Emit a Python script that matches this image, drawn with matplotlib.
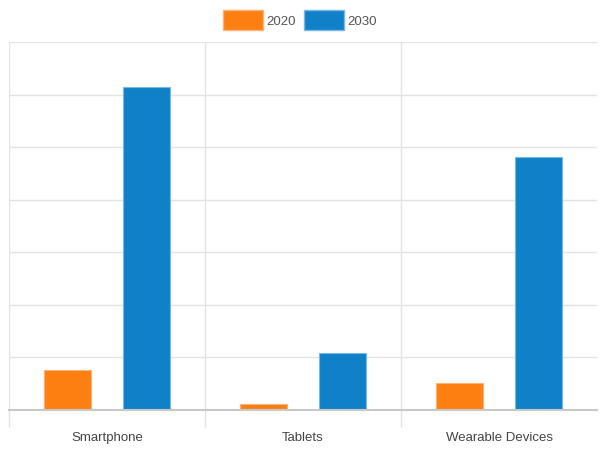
import numpy as np
import matplotlib
matplotlib.use("Agg")
import matplotlib.pyplot as plt
from matplotlib.patches import Patch

plt.rcParams['font.family'] = ['Liberation Sans', 'DejaVu Sans']

# data (gridline units of 10)
categories = ["Smartphone", "Tablets", "Wearable Devices"]
series_names = ["2020", "2030"]
values_2020 = [7.6, 1.1, 5.1]
values_2030 = [61.4, 10.8, 48.1]

orange = "#fd7f12"
blue = "#1080c9"
text_col = "#444444"

fig = plt.figure(figsize=(6.0, 4.52), dpi=100)
ax = fig.add_axes([9 / 600, 1 - 411 / 452, 588 / 600, 368 / 452])

x = np.arange(len(categories))
w = 0.24
off = 0.2015
ax.bar(x - off, values_2020, width=w, color=orange, edgecolor="#fdb27a",
       linewidth=0.8, zorder=3)
ax.bar(x + off, values_2030, width=w, color=blue, edgecolor="#7ab8e4",
       linewidth=0.8, zorder=3)

ax.set_xlim(-0.5, 2.5)
ax.set_ylim(0, 70)
ax.set_yticks(np.arange(0, 71, 10))
ax.set_yticklabels([])
ax.tick_params(axis='y', length=0)
ax.grid(axis='y', color="#e3e3e3", linewidth=1, zorder=0)

ax.set_xticks(x)
ax.set_xticklabels(categories, fontsize=9.5, color=text_col)
ax.set_xticks([-0.5, 0.5, 1.5], minor=True)
ax.tick_params(axis='x', which='major', length=0, pad=15)
ax.tick_params(axis='x', which='minor', length=12, color="#e3e3e3", width=1)
ax.grid(axis='x', which='minor', color="#e3e3e3", linewidth=1, zorder=0)

for s in ['top', 'right', 'left']:
    ax.spines[s].set_visible(False)
ax.spines['bottom'].set_color("#c8c8c8")
ax.spines['bottom'].set_linewidth(1.5)
ax.spines['bottom'].set_zorder(4)

handles = [Patch(facecolor=orange, edgecolor="#fdb27a", label=series_names[0]),
           Patch(facecolor=blue, edgecolor="#7ab8e4", label=series_names[1])]
leg = fig.legend(handles=handles, loc='center', bbox_to_anchor=(0.5, 1 - 21 / 452),
                 ncol=2, frameon=False, fontsize=9.5, handlelength=3.0,
                 handleheight=1.9, handletextpad=0.3, columnspacing=0.6,
                 borderpad=0, borderaxespad=0)
for t in leg.get_texts():
    t.set_color("#555555")

fig.savefig("out.png", dpi=100)
